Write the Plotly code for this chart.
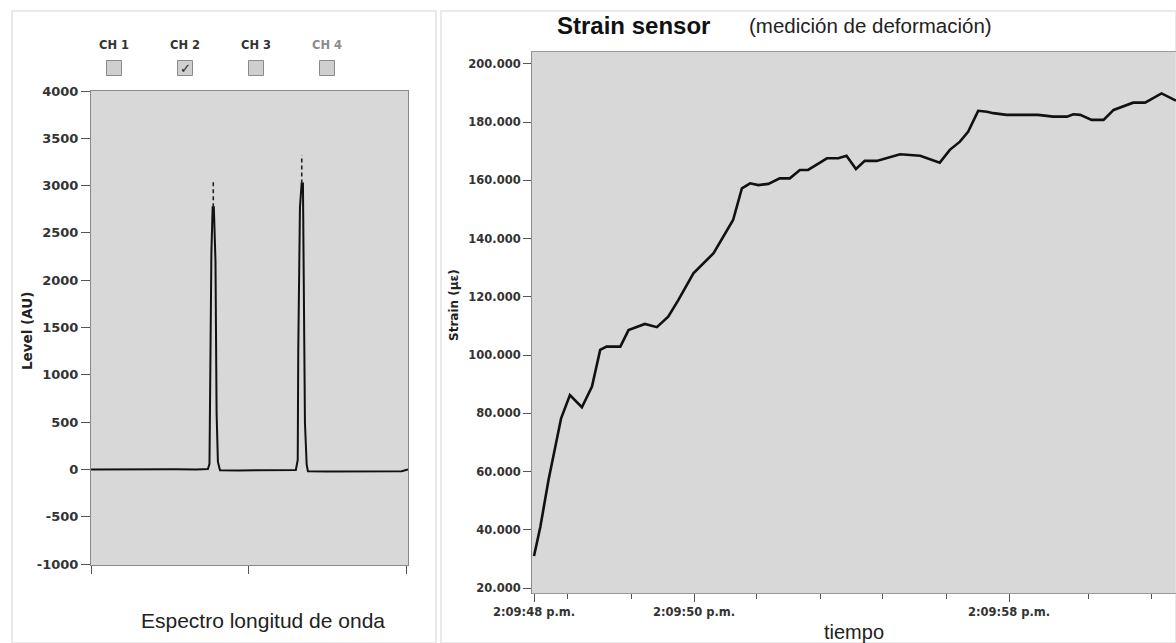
import plotly.graph_objects as go

W, H = 1176, 643

# ---------------- Left panel: wavelength spectrum ----------------
wavelength = [1520.0, 1524.0, 1528.0, 1532.0, 1536.0, 1540.0, 1542.2, 1542.5, 1542.63,
              1542.86, 1543.1, 1543.33, 1543.64, 1543.85, 1544.1, 1544.5, 1548.0, 1552.0,
              1556.0, 1558.9, 1559.26, 1559.36, 1559.68, 1560.0, 1560.25, 1560.44, 1560.63,
              1560.96, 1561.2, 1565.0, 1570.0, 1575.0, 1579.0, 1580.2]
level = [0, 2, -3, 0, 2, 0, 5, 60, 750,
         2280, 2770, 2770, 2200, 600, 80, -8, -10, -8,
         -10, -5, 100, 1260, 2770, 3023, 3023, 2050, 490,
         50, -18, -22, -22, -20, -18, 0]
peak_wavelength = [1543.22, 1560.02]
peak_solid_top = [2770, 3023]
peak_dashed_top = [3055, 3320]
level_ticks = [-1000, -500, 0, 500, 1000, 1500, 2000, 2500, 3000, 3500, 4000]
wl_ticks = [1520, 1550, 1580]
channels = ["CH 1", "CH 2", "CH 3", "CH 4"]
channel_checked = [False, True, False, False]

# ---------------- Right panel: strain vs time ----------------
t_pos = [0.0, 0.10, 0.23, 0.33, 0.43, 0.57, 0.76, 0.92, 1.05, 1.15, 1.37, 1.50, 1.76, 1.95,
         2.13, 2.29, 2.53, 2.85, 3.00, 3.16, 3.30, 3.43, 3.56, 3.72, 3.90, 4.06, 4.22, 4.35,
         4.65, 4.83, 4.96, 5.11, 5.25, 5.44, 5.81, 6.13, 6.44, 6.60, 6.76, 6.89, 7.05, 7.19,
         7.29, 7.50, 7.76, 8.00, 8.24, 8.46, 8.56, 8.67, 8.85, 9.04, 9.20, 9.35, 9.51, 9.70,
         9.96, 10.19]
strain = [31.0, 41.0, 57.1, 67.4, 78.3, 86.3, 82.1, 89.2, 101.8, 102.9, 102.9, 108.6, 110.7, 109.6,
          113.2, 118.9, 128.1, 135.0, 140.7, 146.4, 157.3, 159.0, 158.4, 158.8, 160.7, 160.7, 163.6, 163.6,
          167.6, 167.6, 168.5, 163.9, 166.7, 166.7, 169.0, 168.5, 166.1, 170.5, 173.3, 176.7, 183.9, 183.6,
          183.1, 182.5, 182.5, 182.5, 181.9, 181.9, 182.7, 182.5, 180.8, 180.8, 184.2, 185.3, 186.7, 186.7,
          189.9, 187.4]
time_major_pos = [0.0, 2.54, 7.54]
time_major_text = ["2:09:48 p.m.", "2:09:50 p.m.", "2:09:58 p.m."]
time_minor_pos = [0.524, 1.54, 3.524, 4.54, 5.524, 6.54, 8.794, 9.794]
strain_ticks = [20, 40, 60, 80, 100, 120, 140, 160, 180, 200]

# ---------------- layout helpers (pixel -> paper) ----------------
def px(x):
    return x / W

def py(y):
    return 1 - y / H

fig = go.Figure()

fig.add_trace(go.Scatter(x=wavelength, y=level, mode="lines",
                         line=dict(color="#111111", width=2), xaxis="x", yaxis="y",
                         showlegend=False, hoverinfo="skip"))
dx, dy = [], []
for wl, lo, hi in zip(peak_wavelength, peak_solid_top, peak_dashed_top):
    dx += [wl, wl, None]
    dy += [lo, hi, None]
fig.add_trace(go.Scatter(x=dx, y=dy, mode="lines",
                         line=dict(color="#222222", width=1.6, dash="4px,3px"),
                         xaxis="x", yaxis="y", showlegend=False, hoverinfo="skip"))

fig.add_trace(go.Scatter(x=t_pos, y=strain, mode="lines",
                         line=dict(color="#111111", width=2.6), xaxis="x2", yaxis="y2",
                         showlegend=False, hoverinfo="skip"))

tickfont_l = dict(family="DejaVu Sans", size=13, color="#333333", weight="bold")
tickfont_r = dict(family="DejaVu Sans", size=11.5, color="#333333", weight="bold")

fig.update_layout(
    width=W, height=H,
    autosize=False,
    margin=dict(l=0, r=0, t=0, b=0, pad=0, autoexpand=False),
    paper_bgcolor="white",
    plot_bgcolor="#d8d8d8",
    showlegend=False,
    xaxis=dict(domain=[px(91), px(408)], anchor="y", range=[1520, 1580.2], automargin=False,
               tickmode="array", tickvals=wl_ticks, showticklabels=False,
               ticks="outside", ticklen=8, tickcolor="#555555", tickwidth=1.2,
               showline=True, linecolor="#8a8a8a", linewidth=1, mirror=True,
               showgrid=False, zeroline=False),
    yaxis=dict(domain=[py(565), py(91)], anchor="x", range=[-1010, 4000], automargin=False,
               tickmode="array", tickvals=level_ticks, ticktext=[str(v) for v in level_ticks],
               tickfont=tickfont_l,
               ticks="outside", ticklen=9, tickcolor="#555555", tickwidth=1.2,
               showline=True, linecolor="#8a8a8a", linewidth=1, mirror=True,
               showgrid=False, zeroline=False),
    xaxis2=dict(domain=[px(532), 1.0], anchor="y2", range=[-0.032, 10.19], automargin=False,
                tickmode="array", tickvals=time_major_pos, ticktext=time_major_text,
                tickfont=tickfont_r, ticks="outside", ticklen=8, tickcolor="#555555", tickwidth=1.2,
                minor=dict(tickmode="array", tickvals=time_minor_pos, ticks="outside",
                           ticklen=5, tickcolor="#555555", tickwidth=1.2, showgrid=False),
                showline=True, linecolor="#9a9a9a", linewidth=1, mirror=True,
                showgrid=False, zeroline=False),
    yaxis2=dict(domain=[py(593), py(52)], anchor="x2", range=[18.3, 204.1], automargin=False,
                tickmode="array", tickvals=strain_ticks, tickformat=".3f",
                tickfont=tickfont_r, ticks="outside", ticklen=8, tickcolor="#555555", tickwidth=1.2,
                showline=True, linecolor="#8a8a8a", linewidth=1, mirror=True,
                showgrid=False, zeroline=False),
)

shapes = [
    # panel frames
    dict(type="rect", xref="paper", yref="paper", x0=px(12), x1=px(436), y0=0, y1=py(11),
         line=dict(color="#e4e4e4", width=1.5), fillcolor="rgba(0,0,0,0)", layer="below"),
    dict(type="rect", xref="paper", yref="paper", x0=px(441), x1=1, y0=0, y1=py(11),
         line=dict(color="#e4e4e4", width=1.5), fillcolor="rgba(0,0,0,0)", layer="below"),
]
annotations = []
ch_x = [114, 185, 256, 327]
for name, checked, cx in zip(channels, channel_checked, ch_x):
    col = "#8c8c8c" if name == "CH 4" else "#333333"
    annotations.append(dict(x=px(cx), y=py(45), xref="paper", yref="paper", text=name,
                            showarrow=False, xanchor="center", yanchor="middle",
                            font=dict(family="DejaVu Sans", size=11.5, color=col, weight="bold")))
    shapes.append(dict(type="rect", xref="paper", yref="paper",
                       x0=px(cx - 7.5), x1=px(cx + 7.5), y0=py(75.5), y1=py(60.5),
                       line=dict(color="#8a8a8a", width=1), fillcolor="#cfcfcf"))
    if checked:
        annotations.append(dict(x=px(cx), y=py(68), xref="paper", yref="paper", text="✓",
                                showarrow=False, xanchor="center", yanchor="middle",
                                font=dict(family="DejaVu Sans", size=13, color="#222222")))

annotations += [
    dict(x=px(27), y=py(331), xref="paper", yref="paper", text="Level (AU)", textangle=-90,
         showarrow=False, xanchor="center", yanchor="middle",
         font=dict(family="DejaVu Sans", size=13.5, color="#222222", weight="bold")),
    dict(x=px(454), y=py(305), xref="paper", yref="paper", text="Strain (µε)", textangle=-90,
         showarrow=False, xanchor="center", yanchor="middle",
         font=dict(family="DejaVu Sans", size=12, color="#222222", weight="bold")),
    dict(x=px(263), y=py(620), xref="paper", yref="paper", text="Espectro longitud de onda",
         showarrow=False, xanchor="center", yanchor="middle",
         font=dict(family="Liberation Sans", size=21, color="#222222")),
    dict(x=px(854), y=py(632), xref="paper", yref="paper", text="tiempo",
         showarrow=False, xanchor="center", yanchor="middle",
         font=dict(family="Liberation Sans", size=20, color="#222222")),
    dict(x=px(555), y=py(25), xref="paper", yref="paper", text="Strain sensor",
         showarrow=False, xanchor="left", yanchor="middle",
         font=dict(family="Liberation Sans", size=24, color="#111111", weight="bold")),
    dict(x=px(747), y=py(26), xref="paper", yref="paper", text="(medición de deformación)",
         showarrow=False, xanchor="left", yanchor="middle",
         font=dict(family="Liberation Sans", size=20.5, color="#222222")),
]

fig.update_layout(shapes=shapes, annotations=annotations)
fig.write_html("out.html")
